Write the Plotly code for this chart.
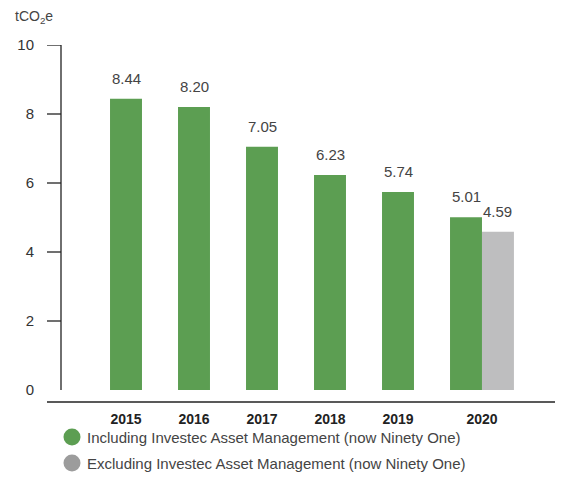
import plotly.graph_objects as go

# Emissions per employee, tCO2e
years = ["2015", "2016", "2017", "2018", "2019", "2020"]
incl_iam = [8.44, 8.20, 7.05, 6.23, 5.74, 5.01]
excl_iam_years = ["2020"]
excl_iam = [4.59]
y_ticks = [0, 2, 4, 6, 8, 10]
legend_labels = [
    "Including Investec Asset Management (now Ninety One)",
    "Excluding Investec Asset Management (now Ninety One)",
]

GREEN = "#5c9e52"
GREY_BAR = "#bebebf"
GREY_DOT = "#9c9c9c"
TEXT = "#444444"
AXIS = "#222222"
FONT = "Liberation Sans, Arial, sans-serif"

W, H = 568, 481
L, R, T, B = 61, 13, 45, 79
PW, PH = W - L - R, H - T - B
BAR_W = 0.47


def px_x(p):
    return (p - L) / PW


def px_y(p):
    return (H - B - p) / PH


idx = {y: i for i, y in enumerate(years)}
x_incl = [idx[y] for y in years]
x_excl = [idx[y] for y in excl_iam_years]

fig = go.Figure()
fig.add_trace(go.Bar(
    x=x_incl, y=incl_iam, width=BAR_W, offset=-BAR_W / 2, marker_color=GREEN,
    marker_line_width=0, name=legend_labels[0], showlegend=False,
))
fig.add_trace(go.Bar(
    x=x_excl, y=excl_iam, width=BAR_W, offset=BAR_W / 2, marker_color=GREY_BAR,
    marker_line_width=0, name=legend_labels[1], showlegend=False,
))

# value labels above the bars
for x, v in zip(x_incl, incl_iam):
    fig.add_annotation(x=x, y=v, text=f"{v:.2f}", showarrow=False,
                       yanchor="bottom", yshift=10,
                       font=dict(family=FONT, size=15, color=TEXT))
for x, v in zip(x_excl, excl_iam):
    fig.add_annotation(x=x + BAR_W, y=v, text=f"{v:.2f}", showarrow=False,
                       yanchor="bottom", yshift=10,
                       font=dict(family=FONT, size=15, color=TEXT))

# year labels: the 2020 label sits under the pair of bars
tick_pos = [i + (BAR_W / 2 if y in excl_iam_years else 0) for i, y in enumerate(years)]

# axis lines and tick marks
shapes = [
    dict(type="line", xref="paper", yref="y", x0=0, x1=0, y0=0, y1=max(y_ticks),
         line=dict(color=AXIS, width=1.3)),
    dict(type="line", xref="paper", yref="paper", x0=px_x(47), x1=1, y0=0, y1=0,
         line=dict(color=AXIS, width=1.5)),
]
for t in y_ticks[1:]:
    shapes.append(dict(type="line", xref="paper", yref="y", x0=px_x(47), x1=0,
                       y0=t, y1=t, line=dict(color=AXIS, width=1.3)))

# legend
for k, (lab, col) in enumerate(zip(legend_labels, [GREEN, GREY_DOT])):
    cy = 437 + 26 * k
    shapes.append(dict(type="circle", xref="paper", yref="paper",
                       x0=px_x(63.5), x1=px_x(80.5), y0=px_y(cy + 8.5), y1=px_y(cy - 8.5),
                       fillcolor=col, line=dict(width=0)))
    fig.add_annotation(xref="paper", yref="paper", x=px_x(85), y=px_y(cy),
                       xanchor="left", yanchor="middle", text=lab, showarrow=False,
                       font=dict(family=FONT, size=15, color=TEXT))

# unit label
fig.add_annotation(xref="paper", yref="paper", x=px_x(13), y=px_y(17),
                   xanchor="left", yanchor="middle", text="tCO<sub>2</sub>e",
                   showarrow=False, font=dict(family=FONT, size=14, color=TEXT))

y_min = 10 - PH / 34.5
fig.update_layout(
    width=W, height=H,
    margin=dict(l=L, r=R, t=T, b=B, pad=0),
    paper_bgcolor="white", plot_bgcolor="white",
    barmode="overlay", shapes=shapes,
    font=dict(family=FONT, color=TEXT),
    xaxis=dict(range=[-65 / 68, -65 / 68 + PW / 68], tickvals=tick_pos, ticktext=years,
               showgrid=False, zeroline=False, showline=False, ticks="",
               tickfont=dict(family=FONT, size=14, color="#222222", weight="bold"),
               ticklabelstandoff=7),
    yaxis=dict(range=[y_min, 10], tickvals=y_ticks, showgrid=False, zeroline=False,
               showline=False, ticks="", ticklabelstandoff=26,
               tickfont=dict(family=FONT, size=15, color="#333333")),
)

fig.write_html("out.html")
